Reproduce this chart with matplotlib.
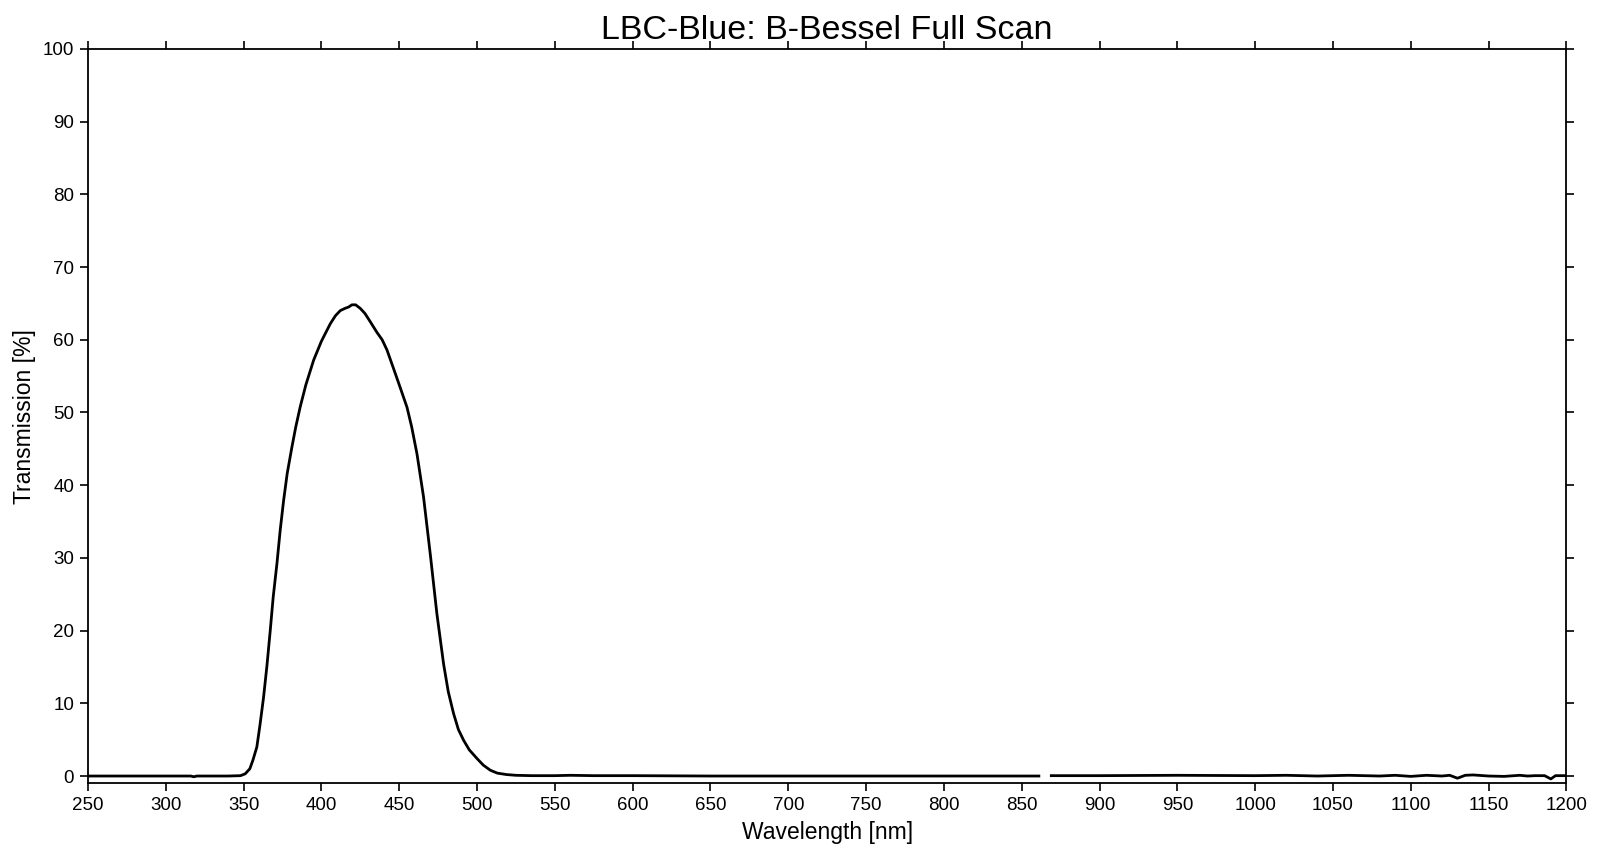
import numpy as np
import matplotlib.pyplot as plt

plt.rcParams['font.family'] = ['Liberation Sans', 'DejaVu Sans']

# B-Bessel scan (nm, %)
wavelength = [250, 270, 290, 310, 316, 318, 320, 330, 340, 348, 351, 354, 356, 358.5,
              360.5, 362.8, 365, 367.1, 369, 371.4, 373.5, 375.7, 378, 381, 383.5,
              386.4, 390, 395, 400, 405.7, 409, 412.1, 415, 417.5, 419.6, 422, 425,
              428, 431, 435.7, 439, 442.1, 446.4, 450, 455, 458, 461.4, 465.6, 470,
              474.2, 478.5, 481.5, 484.9, 488, 491.4, 495, 500, 504, 508.5, 513, 519,
              525, 535, 550, 560, 575, 600, 650, 700, 750, 800, 840, 861, 865, 869,
              900, 950, 1000, 1020, 1040, 1060, 1080, 1090, 1100, 1110, 1120, 1125,
              1130, 1135, 1140, 1150, 1160, 1170, 1175, 1180, 1186, 1190, 1193, 1200]
transmission = [0.0, 0.0, 0.0, 0.0, 0.0, -0.1, 0.0, 0.0, 0.0, 0.05, 0.3, 1.0, 2.2, 4.0,
                7.0, 10.8, 15.2, 20.0, 24.6, 29.2, 33.8, 37.9, 41.6, 45.2, 48.0,
                50.8, 53.8, 57.2, 59.8, 62.2, 63.3, 64.0, 64.3, 64.5, 64.8, 64.8, 64.3,
                63.6, 62.6, 61.0, 60.0, 58.6, 56.0, 53.8, 50.7, 48.0, 44.3, 38.4, 30.4,
                22.3, 15.4, 11.6, 8.6, 6.4, 4.9, 3.6, 2.4, 1.5, 0.8, 0.4, 0.2,
                0.1, 0.05, 0.05, 0.1, 0.05, 0.05, 0.0, 0.0, 0.0, 0.0, 0.0, 0.0, np.nan, 0.05,
                0.05, 0.1, 0.05, 0.1, 0.0, 0.1, 0.0, 0.1, -0.05, 0.1, 0.0, 0.1,
                -0.3, 0.1, 0.15, 0.0, -0.05, 0.1, 0.0, 0.05, 0.05, -0.4, 0.05, 0.05]

x_ticks = list(range(250, 1201, 50))
y_ticks = list(range(0, 101, 10))

fig = plt.figure(figsize=(16, 8.57), dpi=100)
ax = fig.add_axes([0.055, 0.086, 0.924, 0.857])

ax.plot(wavelength, transmission, color='black', lw=2.0)

ax.set_xlim(250, 1200)
ax.set_ylim(-1, 100)
ax.set_xticks(x_ticks)
ax.set_yticks(y_ticks)
ax.tick_params(direction='out', length=6, width=1.2, labelsize=13.5,
               top=True, right=True, pad=4)
for s in ax.spines.values():
    s.set_linewidth(1.3)

ax.set_xlabel('Wavelength [nm]', fontsize=16.5, labelpad=5)
ax.set_ylabel('Transmission [%]', fontsize=16.5, labelpad=5)
ax.set_title('LBC-Blue: B-Bessel Full Scan', fontsize=24.5, pad=7)

fig.savefig('out.png', dpi=100)
